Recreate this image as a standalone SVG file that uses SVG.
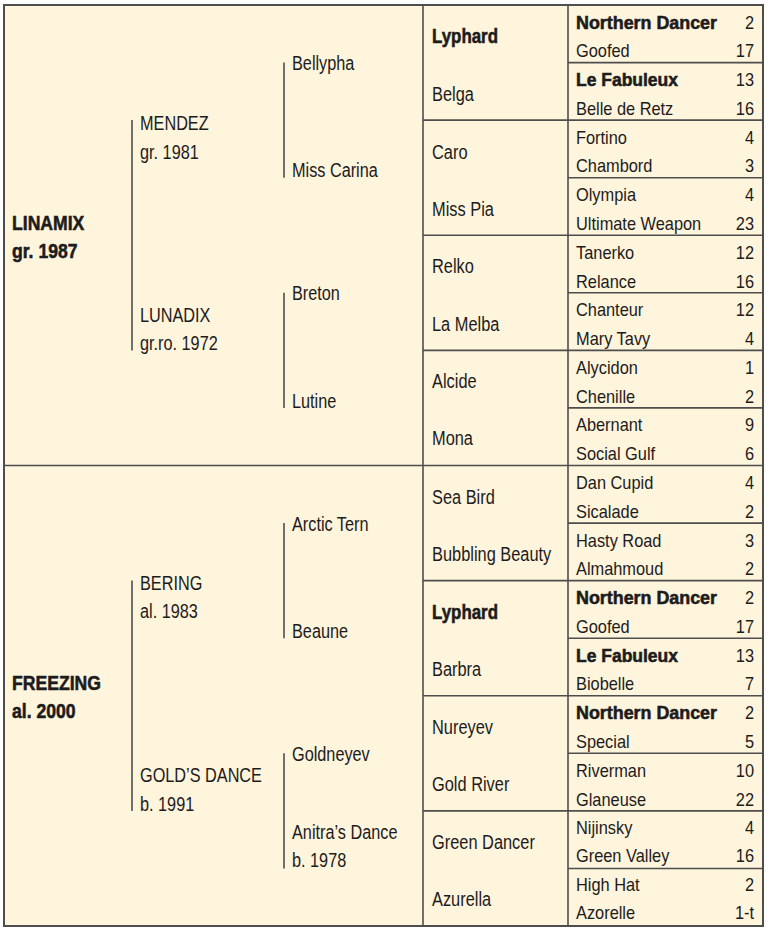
<svg xmlns="http://www.w3.org/2000/svg" width="768" height="933" viewBox="0 0 768 933">
<style>
text{font-family:"Liberation Sans",Arial,sans-serif;fill:#1c1c1c}
.b{font-weight:bold;stroke:#1c1c1c;stroke-width:0.55px}
.c0{font-size:20px}
.c1{font-size:21px}
.c4{font-size:18px}
.c4b{font-size:18.5px}
.n{font-size:18px;text-anchor:end}
.grid line{stroke:#4e4e4e;stroke-width:1.6}
.br line{stroke:#4e4e4e;stroke-width:1.6}
</style>
<rect x="0" y="0" width="768" height="933" fill="#ffffff"/>
<rect x="4" y="5" width="759" height="921" fill="#fff4dc" stroke="#4e4e4e" stroke-width="2"/>
<g class="grid" id="grid">
<line x1="423" y1="5" x2="423" y2="926"/>
<line x1="568" y1="5" x2="568" y2="926"/>
<line x1="4" y1="465.5" x2="763" y2="465.5"/>
<line x1="423" y1="120.1" x2="763" y2="120.1"/>
<line x1="423" y1="235.25" x2="763" y2="235.25"/>
<line x1="423" y1="350.4" x2="763" y2="350.4"/>
<line x1="423" y1="580.6" x2="763" y2="580.6"/>
<line x1="423" y1="695.75" x2="763" y2="695.75"/>
<line x1="423" y1="810.9" x2="763" y2="810.9"/>
<line x1="568" y1="62.6" x2="763" y2="62.6"/>
<line x1="568" y1="177.7" x2="763" y2="177.7"/>
<line x1="568" y1="292.8" x2="763" y2="292.8"/>
<line x1="568" y1="407.9" x2="763" y2="407.9"/>
<line x1="568" y1="523.1" x2="763" y2="523.1"/>
<line x1="568" y1="638.2" x2="763" y2="638.2"/>
<line x1="568" y1="753.3" x2="763" y2="753.3"/>
<line x1="568" y1="868.5" x2="763" y2="868.5"/>
</g>
<g class="br" id="connectors">
<line x1="132" y1="120.1" x2="132" y2="350.4"/>
<line x1="132" y1="580.6" x2="132" y2="810.9"/>
<line x1="284" y1="62.6" x2="284" y2="177.7"/>
<line x1="284" y1="292.8" x2="284" y2="407.9"/>
<line x1="284" y1="523.1" x2="284" y2="638.2"/>
<line x1="284" y1="753.3" x2="284" y2="868.5"/>
</g>
<g id="linamix"><text class="c0 b" transform="translate(12 229.5) scale(0.88 1)">LINAMIX</text><text class="c0 b" transform="translate(12 258) scale(0.88 1)">gr. 1987</text></g>
<g id="freezing"><text class="c0 b" transform="translate(12 689.5) scale(0.88 1)">FREEZING</text><text class="c0 b" transform="translate(12 718) scale(0.88 1)">al. 2000</text></g>
<g id="mendez"><text class="c1" transform="translate(140 130) scale(0.775 1)">MENDEZ</text><text class="c1" transform="translate(140 158.5) scale(0.775 1)">gr. 1981</text></g>
<g id="lunadix"><text class="c1" transform="translate(140 321.8) scale(0.775 1)">LUNADIX</text><text class="c1" transform="translate(140 350) scale(0.775 1)">gr.ro. 1972</text></g>
<g id="bering"><text class="c1" transform="translate(140 590) scale(0.775 1)">BERING</text><text class="c1" transform="translate(140 618) scale(0.775 1)">al. 1983</text></g>
<g id="golds-dance"><text class="c1" transform="translate(140 782) scale(0.775 1)">GOLD’S DANCE</text><text class="c1" transform="translate(140 810.5) scale(0.775 1)">b. 1991</text></g>
<g id="bellypha"><text class="c1" transform="translate(292 70) scale(0.775 1)">Bellypha</text></g>
<g id="miss-carina"><text class="c1" transform="translate(292 177) scale(0.775 1)">Miss Carina</text></g>
<g id="breton"><text class="c1" transform="translate(292 300) scale(0.775 1)">Breton</text></g>
<g id="lutine"><text class="c1" transform="translate(292 407.5) scale(0.775 1)">Lutine</text></g>
<g id="arctic-tern"><text class="c1" transform="translate(292 530.7) scale(0.775 1)">Arctic Tern</text></g>
<g id="beaune"><text class="c1" transform="translate(292 637.5) scale(0.775 1)">Beaune</text></g>
<g id="goldneyev"><text class="c1" transform="translate(292 761) scale(0.775 1)">Goldneyev</text></g>
<g id="anitras-dance"><text class="c1" transform="translate(292 839) scale(0.775 1)">Anitra’s Dance</text><text class="c1" transform="translate(292 867) scale(0.775 1)">b. 1978</text></g>
<g id="g4-lyphard-1"><text class="c1 b" transform="translate(432 43) scale(0.805 1)">Lyphard</text></g>
<g id="g4-belga"><text class="c1" transform="translate(432 100.6) scale(0.78 1)">Belga</text></g>
<g id="g4-caro"><text class="c1" transform="translate(432 159) scale(0.78 1)">Caro</text></g>
<g id="g4-miss-pia"><text class="c1" transform="translate(432 215.7) scale(0.78 1)">Miss Pia</text></g>
<g id="g4-relko"><text class="c1" transform="translate(432 273.2) scale(0.78 1)">Relko</text></g>
<g id="g4-la-melba"><text class="c1" transform="translate(432 330.8) scale(0.78 1)">La Melba</text></g>
<g id="g4-alcide"><text class="c1" transform="translate(432 388.4) scale(0.78 1)">Alcide</text></g>
<g id="g4-mona"><text class="c1" transform="translate(432 445) scale(0.78 1)">Mona</text></g>
<g id="g4-sea-bird"><text class="c1" transform="translate(432 503.5) scale(0.78 1)">Sea Bird</text></g>
<g id="g4-bubbling-beauty"><text class="c1" transform="translate(432 561) scale(0.78 1)">Bubbling Beauty</text></g>
<g id="g4-lyphard-2"><text class="c1 b" transform="translate(432 618.6) scale(0.805 1)">Lyphard</text></g>
<g id="g4-barbra"><text class="c1" transform="translate(432 676.2) scale(0.78 1)">Barbra</text></g>
<g id="g4-nureyev"><text class="c1" transform="translate(432 733.7) scale(0.78 1)">Nureyev</text></g>
<g id="g4-gold-river"><text class="c1" transform="translate(432 791.3) scale(0.78 1)">Gold River</text></g>
<g id="g4-green-dancer"><text class="c1" transform="translate(432 848.8) scale(0.78 1)">Green Dancer</text></g>
<g id="g4-azurella"><text class="c1" transform="translate(432 906) scale(0.78 1)">Azurella</text></g>
<g id="g5-00"><text class="c4b b" x="576" y="28.5" textLength="141" lengthAdjust="spacingAndGlyphs">Northern Dancer</text><text class="n" transform="translate(754 28.5) scale(0.91 1)">2</text></g>
<g id="g5-01"><text class="c4" transform="translate(576 57.3) scale(0.91 1)">Goofed</text><text class="n" transform="translate(754 57.3) scale(0.91 1)">17</text></g>
<g id="g5-02"><text class="c4b b" x="576" y="86.1" textLength="102" lengthAdjust="spacingAndGlyphs">Le Fabuleux</text><text class="n" transform="translate(754 86.1) scale(0.91 1)">13</text></g>
<g id="g5-03"><text class="c4" transform="translate(576 114.8) scale(0.91 1)">Belle de Retz</text><text class="n" transform="translate(754 114.8) scale(0.91 1)">16</text></g>
<g id="g5-04"><text class="c4" transform="translate(576 143.6) scale(0.91 1)">Fortino</text><text class="n" transform="translate(754 143.6) scale(0.91 1)">4</text></g>
<g id="g5-05"><text class="c4" transform="translate(576 172.4) scale(0.91 1)">Chambord</text><text class="n" transform="translate(754 172.4) scale(0.91 1)">3</text></g>
<g id="g5-06"><text class="c4" transform="translate(576 201.2) scale(0.91 1)">Olympia</text><text class="n" transform="translate(754 201.2) scale(0.91 1)">4</text></g>
<g id="g5-07"><text class="c4" transform="translate(576 230) scale(0.91 1)">Ultimate Weapon</text><text class="n" transform="translate(754 230) scale(0.91 1)">23</text></g>
<g id="g5-08"><text class="c4" transform="translate(576 258.7) scale(0.91 1)">Tanerko</text><text class="n" transform="translate(754 258.7) scale(0.91 1)">12</text></g>
<g id="g5-09"><text class="c4" transform="translate(576 287.5) scale(0.91 1)">Relance</text><text class="n" transform="translate(754 287.5) scale(0.91 1)">16</text></g>
<g id="g5-10"><text class="c4" transform="translate(576 316.3) scale(0.91 1)">Chanteur</text><text class="n" transform="translate(754 316.3) scale(0.91 1)">12</text></g>
<g id="g5-11"><text class="c4" transform="translate(576 345.1) scale(0.91 1)">Mary Tavy</text><text class="n" transform="translate(754 345.1) scale(0.91 1)">4</text></g>
<g id="g5-12"><text class="c4" transform="translate(576 373.9) scale(0.91 1)">Alycidon</text><text class="n" transform="translate(754 373.9) scale(0.91 1)">1</text></g>
<g id="g5-13"><text class="c4" transform="translate(576 402.6) scale(0.91 1)">Chenille</text><text class="n" transform="translate(754 402.6) scale(0.91 1)">2</text></g>
<g id="g5-14"><text class="c4" transform="translate(576 431.4) scale(0.91 1)">Abernant</text><text class="n" transform="translate(754 431.4) scale(0.91 1)">9</text></g>
<g id="g5-15"><text class="c4" transform="translate(576 460.2) scale(0.91 1)">Social Gulf</text><text class="n" transform="translate(754 460.2) scale(0.91 1)">6</text></g>
<g id="g5-16"><text class="c4" transform="translate(576 489) scale(0.91 1)">Dan Cupid</text><text class="n" transform="translate(754 489) scale(0.91 1)">4</text></g>
<g id="g5-17"><text class="c4" transform="translate(576 517.8) scale(0.91 1)">Sicalade</text><text class="n" transform="translate(754 517.8) scale(0.91 1)">2</text></g>
<g id="g5-18"><text class="c4" transform="translate(576 546.5) scale(0.91 1)">Hasty Road</text><text class="n" transform="translate(754 546.5) scale(0.91 1)">3</text></g>
<g id="g5-19"><text class="c4" transform="translate(576 575.3) scale(0.91 1)">Almahmoud</text><text class="n" transform="translate(754 575.3) scale(0.91 1)">2</text></g>
<g id="g5-20"><text class="c4b b" x="576" y="604.1" textLength="141" lengthAdjust="spacingAndGlyphs">Northern Dancer</text><text class="n" transform="translate(754 604.1) scale(0.91 1)">2</text></g>
<g id="g5-21"><text class="c4" transform="translate(576 632.9) scale(0.91 1)">Goofed</text><text class="n" transform="translate(754 632.9) scale(0.91 1)">17</text></g>
<g id="g5-22"><text class="c4b b" x="576" y="661.7" textLength="102" lengthAdjust="spacingAndGlyphs">Le Fabuleux</text><text class="n" transform="translate(754 661.7) scale(0.91 1)">13</text></g>
<g id="g5-23"><text class="c4" transform="translate(576 690.4) scale(0.91 1)">Biobelle</text><text class="n" transform="translate(754 690.4) scale(0.91 1)">7</text></g>
<g id="g5-24"><text class="c4b b" x="576" y="719.2" textLength="141" lengthAdjust="spacingAndGlyphs">Northern Dancer</text><text class="n" transform="translate(754 719.2) scale(0.91 1)">2</text></g>
<g id="g5-25"><text class="c4" transform="translate(576 748) scale(0.91 1)">Special</text><text class="n" transform="translate(754 748) scale(0.91 1)">5</text></g>
<g id="g5-26"><text class="c4" transform="translate(576 776.8) scale(0.91 1)">Riverman</text><text class="n" transform="translate(754 776.8) scale(0.91 1)">10</text></g>
<g id="g5-27"><text class="c4" transform="translate(576 805.6) scale(0.91 1)">Glaneuse</text><text class="n" transform="translate(754 805.6) scale(0.91 1)">22</text></g>
<g id="g5-28"><text class="c4" transform="translate(576 834.3) scale(0.91 1)">Nijinsky</text><text class="n" transform="translate(754 834.3) scale(0.91 1)">4</text></g>
<g id="g5-29"><text class="c4" transform="translate(576 862) scale(0.91 1)">Green Valley</text><text class="n" transform="translate(754 862) scale(0.91 1)">16</text></g>
<g id="g5-30"><text class="c4" transform="translate(576 891) scale(0.91 1)">High Hat</text><text class="n" transform="translate(754 891) scale(0.91 1)">2</text></g>
<g id="g5-31"><text class="c4" transform="translate(576 919) scale(0.91 1)">Azorelle</text><text class="n" transform="translate(754 919) scale(0.91 1)">1-t</text></g>
</svg>
